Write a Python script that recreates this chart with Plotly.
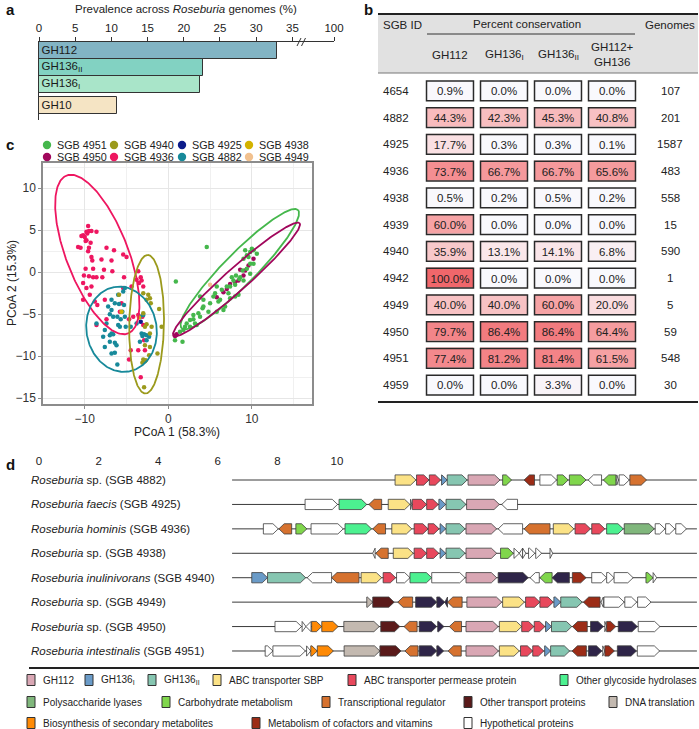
import numpy as np
import plotly.graph_objects as go

W, H = 699, 729
FONT = "Liberation Sans, Arial, Helvetica, sans-serif"

def px(x): return x / W
def py(y): return 1 - y / H
def xd(a, b): return [a / W, b / W]
def yd(top, bottom): return [1 - bottom / H, 1 - top / H]

# ---------------- Panel a data ----------------
gh_families = ["GH112", "GH136<sub>II</sub>", "GH136<sub>I</sub>", "GH10"]
prevalence = [32.9, 22.7, 22.3, 10.8]
bar_colors = ["#82b4c4", "#82d2c2", "#a9e5c9", "#f5e4c4"]
prev_ticks = [0, 5, 10, 15, 20, 25, 30, 35]
prev_break_label = "100"

# ---------------- Panel b data ----------------
sgb_ids = ["4654", "4882", "4925", "4936", "4938", "4939", "4940", "4942", "4949", "4950", "4951", "4959"]
cons_gh112 = [0.9, 44.3, 17.7, 73.7, 0.5, 60.0, 35.9, 100.0, 40.0, 79.7, 77.4, 0.0]
cons_gh136i = [0.0, 42.3, 0.3, 66.7, 0.2, 0.0, 13.1, 0.0, 40.0, 86.4, 81.2, 0.0]
cons_gh136ii = [0.0, 45.3, 0.3, 66.7, 0.5, 0.0, 14.1, 0.0, 60.0, 86.4, 81.4, 3.3]
cons_both = [0.0, 40.8, 0.1, 65.6, 0.2, 0.0, 6.8, 0.0, 20.0, 64.4, 61.5, 0.0]
n_genomes = [107, 201, 1587, 483, 558, 15, 590, 1, 5, 59, 548, 30]
cons_headers = ["GH112", "GH136<sub>I</sub>", "GH136<sub>II</sub>", "GH112+<br>GH136"]

# ---------------- Panel c data ----------------
sgb4936_x = [-9.6, -9.8, -10.2, -10.4, -10.0, -9.5, -9.2, -8.6, -9.9, -9.8, -10.5, -9.6, -9.5, -9.2, -9.1,
             -9.9, -9.0, -7.4, -6.5, -5.4, -5.0, -6.8, -7.7, -6.7, -9.5, -9.0, -8.6, -7.9, -10.1, -5.3,
             -3.6, -3.8, -3.3, -3.2, -3.5, -3.0, -4.4, -10.2, -9.8, -9.4, -10.2, -8.8, -8.5, -7.6, -8.6,
             -7.4, -5.6, -5.8, -4.7, -4.2, -3.6, -3.1, -3.0, -4.5, -3.6, -2.8, -4.7, -3.3, -2.9, -5.4,
             -9.2, -9.7, -9.3, -10.8, -8.0]
sgb4936_y = [5.5, 4.8, 4.4, 4.3, 4.2, 4.9, 4.9, 4.8, 3.7, 3.8, 2.9, 2.5, 2.9, 1.8, 1.4,
             0.4, 0.4, 2.9, 2.6, 2.1, 1.8, 1.4, 0.3, 0.1, -0.5, -0.6, -0.6, -0.6, -0.4, -0.6,
             0.1, -0.9, -0.6, -1.0, -1.3, -1.7, -1.7, -1.3, -1.9, -2.7, -3.3, -3.5, -3.9, -3.3, -6.3,
             -5.6, -3.7, -4.7, -5.6, -5.3, -5.1, -5.3, -6.3, -9.3, -9.3, -9.3, -10.4, -12.5, -8.1, -1.9,
             -1.7, 4.6, 3.5, 3.0, 1.5]
sgb4882_x = [-6.0, -5.4, -5.2, -6.8, -6.4, -5.9, -5.3, -7.2, -6.8, -7.0, -6.6, -6.1, -5.7, -5.2, -7.4,
             -6.0, -5.8, -5.1, -7.6, -6.8, -7.0, -6.6, -7.0, -6.4, -6.2, -7.8, -7.6, -6.8, -6.4, -6.1,
             -4.5, -3.8, -3.4, -3.0, -3.2, -3.1, -2.9, -2.6, -3.4, -2.6, -2.3, -8.6, -5.5]
sgb4882_y = [-2.7, -2.3, -1.9, -3.3, -3.7, -3.8, -3.9, -4.1, -4.5, -5.0, -5.3, -5.3, -5.6, -5.3, -6.1,
             -6.3, -6.5, -6.5, -6.9, -7.3, -7.5, -7.4, -8.3, -8.4, -8.7, -7.7, -8.9, -9.7, -9.6, -11.0,
             -6.5, -6.1, -5.3, -5.1, -7.3, -7.6, -7.4, -8.1, -8.3, -7.5, -7.7, -6.1, -4.7]
sgb4940_x = [-5.9, -3.0, -2.4, -2.2, -2.6, -2.1, -1.1, -3.0, -2.6, -2.8, -2.0, -0.8, -2.2, -2.8, -2.2,
             -2.3, -1.3, -3.0, -2.8, -3.1, -2.9, -2.7]
sgb4940_y = [-2.7, -2.5, -2.7, -3.1, -3.3, -3.7, -4.4, -4.9, -6.2, -6.5, -6.5, -6.5, -7.3, -8.7, -8.9,
             -9.9, -9.7, -10.4, -10.6, -10.8, -13.7, -10.5]
sgb4951_x = [4.6, 0.9, 3.8, 4.2, 5.0, 5.4, 5.6, 6.0, 6.6, 6.8, 5.8, 4.8, 4.1, 3.6, 3.0, 2.6, 2.2, 2.0,
             1.8, 1.4, 0.8, 1.7, 3.4, 3.0, 7.4, 8.0, 8.4, 7.0, 7.4, 7.8, 8.1, 8.6, 9.0, 8.9, 9.4, 9.8,
             9.0, 9.4, 9.8, 10.2, 10.6, 10.0, 9.6, 10.2, 8.0, 7.2, 6.4, 5.8, 4.2, 2.6, 3.2, 3.8, 6.2,
             9.8, 9.2, 8.5, 7.6]
sgb4951_y = [3.0, -1.1, -2.9, -3.3, -3.7, -2.9, -2.5, -3.5, -4.5, -4.1, -4.7, -4.7, -4.3, -4.9, -5.1,
             -5.7, -6.1, -6.5, -6.9, -7.1, -8.1, -8.3, -6.3, -5.6, -3.1, -2.9, -2.7, -1.7, -1.7, -1.0,
             -0.4, -0.6, -1.0, 0.2, 0.4, 1.0, 1.6, 2.0, 2.4, 2.6, 2.2, 2.8, 1.8, 1.0, -1.5, -2.5, -2.1,
             -1.7, -4.1, -6.5, -6.1, -5.3, -3.3, -0.2, 2.6, -0.8, -0.6]
sgb4950_x = [8.6, 8.0, 8.4, 9.0, 7.4, 6.6, 0.9, 1.0, 0.8, 9.6, 10.2, 5.8, 7.0, 9.2]
sgb4950_y = [0.3, -1.2, -1.0, -0.4, -1.4, -2.4, -7.5, -7.4, -7.6, 0.8, 1.6, -3.0, -2.0, 0.2]
sgb4925_x = [-3.3]
sgb4925_y = [-5.9]
sgb4938_x = [-5.6, -3.5]
sgb4938_y = [-4.7, -5.4]
sgb4949_x = [5.0]
sgb4949_y = [-1.5]

sgb_colors = {"4951": "#45b74c", "4950": "#a1075c", "4940": "#9b9a1c", "4936": "#ee1660",
              "4925": "#0c1c8a", "4882": "#17899a", "4938": "#d3b300", "4949": "#f1c18f"}
legend_row1 = ["4951", "4940", "4925", "4938"]
legend_row2 = ["4950", "4936", "4882", "4949"]

# confidence ellipses (centre, semi-axes, angle in degrees)
ell_sgb = ["4936", "4882", "4940", "4951", "4950"]
ell_cx = [-8.5, -5.6, -2.6, 8.56, 8.16]
ell_cy = [2.1, -6.8, -6.2, 0.36, -0.87]
ell_a = [10.1, 5.1, 8.25, 9.9, 10.1]
ell_b = [3.7, 4.2, 2.08, 1.9, 1.35]
ell_angle = [-68.6, 100, 89, 45.3, 41.6]

# ---------------- Panel d data ----------------
genome_sgb = ["4882", "4925", "4936", "4938", "4940", "4949", "4950", "4951"]
genome_species = ["sp.", "faecis", "hominis", "sp.", "inulinivorans", "sp.", "sp.", "intestinalis"]
track_start = 6.48
track_end = 22.08
kb_ticks = [0, 2, 4, 6, 8, 10]

genes_4882 = [(11.95, 12.65, 1, 'SBP'), (12.67, 13.09, 1, 'PERM'), (13.10, 13.48, 1, 'PERM'),
              (13.51, 13.70, 1, 'GH136I'), (13.70, 14.37, 1, 'GH136II'), (14.40, 15.47, 1, 'GH112'),
              (15.56, 15.86, 1, 'CARB'), (16.28, 16.63, -1, 'COF'), (16.81, 17.37, 1, 'HYP'),
              (17.39, 17.76, 1, 'CARB'), (17.80, 18.36, 1, 'CARB'), (18.43, 18.88, -1, 'HYP'),
              (18.94, 19.36, -1, 'CARB'), (19.39, 19.45, 1, 'HYP'), (19.47, 19.81, 1, 'HYP'),
              (19.83, 20.39, 1, 'TREG')]
genes_4925 = [(8.93, 10.02, 1, 'HYP'), (10.07, 11.00, 1, 'OGH'), (11.07, 11.50, -1, 'TREG'),
              (11.72, 12.45, 1, 'SBP'), (12.47, 12.51, 1, 'HYP'), (12.53, 13.01, 1, 'PERM'),
              (13.01, 13.40, 1, 'PERM'), (13.42, 13.65, 1, 'GH136I'), (13.66, 14.33, 1, 'GH136II'),
              (14.35, 15.45, 1, 'GH112'), (15.53, 16.06, -1, 'HYP')]
genes_4936 = [(7.53, 8.03, 1, 'HYP'), (8.05, 8.48, -1, 'TREG'), (8.62, 8.99, 1, 'CARB'),
              (9.13, 10.21, 1, 'HYP'), (10.27, 11.16, 1, 'OGH'), (11.20, 11.63, -1, 'TREG'),
              (11.84, 12.51, 1, 'SBP'), (12.59, 13.06, 1, 'PERM'), (13.06, 13.43, 1, 'PERM'),
              (13.46, 13.65, 1, 'GH136I'), (13.66, 14.30, 1, 'GH136II'), (14.33, 15.36, 1, 'GH112'),
              (15.41, 16.23, -1, 'HYP'), (16.28, 17.15, -1, 'TREG'), (17.26, 17.95, 1, 'SBP'),
              (17.99, 18.51, 1, 'PERM'), (18.55, 18.99, 1, 'PERM'), (19.05, 19.61, 1, 'OGH'),
              (19.64, 20.65, 1, 'PL'), (20.68, 21.01, 1, 'HYP'), (21.03, 21.34, 1, 'HYP'),
              (21.37, 21.73, 1, 'HYP')]
genes_4938 = [(11.20, 11.28, -1, 'HYP'), (11.30, 11.72, -1, 'TREG'), (11.89, 12.56, 1, 'SBP'),
              (12.59, 13.01, 1, 'PERM'), (13.01, 13.42, 1, 'PERM'), (13.46, 13.65, 1, 'GH136I'),
              (13.66, 14.30, 1, 'GH136II'), (14.33, 15.36, 1, 'GH112'), (15.49, 15.92, 1, 'CARB'),
              (15.94, 16.12, 1, 'HYP'), (16.12, 16.23, -1, 'HYP'), (16.23, 16.34, 1, 'HYP'),
              (16.43, 16.64, 1, 'HYP'), (16.67, 16.87, 1, 'HYP'), (17.15, 17.24, 1, 'HYP')]
genes_4940 = [(7.14, 7.67, 1, 'GH136I'), (7.67, 8.95, 1, 'GH136II'), (9.00, 9.82, -1, 'HYP'),
              (9.82, 10.74, -1, 'TREG'), (10.81, 11.50, 1, 'SBP'), (11.55, 11.97, 1, 'PERM'),
              (12.00, 12.45, 1, 'HYP'), (12.45, 13.18, 1, 'OGH'), (13.18, 14.30, 1, 'HYP'),
              (14.33, 15.36, 1, 'GH112'), (15.41, 16.42, 1, 'UNK'), (16.48, 16.79, -1, 'HYP'),
              (16.81, 17.22, -1, 'CARB'), (17.22, 17.80, -1, 'UNK'), (17.90, 18.36, 1, 'COF'),
              (18.55, 19.05, 1, 'HYP'), (19.05, 19.30, 1, 'HYP'), (19.30, 19.94, 1, 'HYP'),
              (20.37, 20.61, 1, 'CARB'), (20.61, 20.73, 1, 'HYP')]
genes_4949 = [(11.00, 11.20, 1, 'DNA'), (11.20, 11.92, 1, 'OTP'), (12.04, 12.54, -1, 'TREG'),
              (12.64, 13.35, 1, 'UNK'), (13.35, 13.62, 1, 'UNK'), (13.62, 13.71, -1, 'UNK'),
              (13.71, 14.20, -1, 'TREG'), (14.36, 15.53, 1, 'GH112'), (15.56, 16.29, 1, 'SBP'),
              (16.33, 16.81, 1, 'PERM'), (16.81, 17.26, 1, 'PERM'), (17.28, 17.51, 1, 'GH136I'),
              (17.51, 18.23, 1, 'GH136II'), (18.27, 18.83, -1, 'COF'), (18.86, 18.94, -1, 'HYP'),
              (18.96, 19.64, 1, 'HYP'), (19.66, 20.06, 1, 'HYP'), (20.09, 20.54, 1, 'HYP')]
genes_4950 = [(7.92, 8.81, 1, 'HYP'), (8.83, 8.96, 1, 'HYP'), (8.96, 9.13, -1, 'HYP'),
              (9.15, 9.49, 1, 'BIOS'), (9.49, 10.04, 1, 'BIOS'), (10.23, 11.42, 1, 'DNA'),
              (11.47, 12.11, 1, 'OTP'), (12.25, 12.69, -1, 'TREG'), (12.76, 13.35, 1, 'UNK'),
              (13.38, 13.59, 1, 'UNK'), (13.77, 14.18, -1, 'TREG'), (14.33, 15.41, 1, 'GH112'),
              (15.45, 16.20, 1, 'SBP'), (16.20, 16.61, 1, 'PERM'), (16.62, 16.98, 1, 'PERM'),
              (17.00, 17.20, 1, 'GH136I'), (17.20, 17.88, 1, 'GH136II'), (17.90, 18.40, -1, 'COF'),
              (18.51, 18.94, 1, 'UNK'), (18.99, 19.05, 1, 'HYP'), (19.05, 19.36, 1, 'COF'),
              (19.44, 20.08, 1, 'UNK'), (20.11, 20.84, 1, 'HYP')]
genes_4951 = [(7.59, 7.85, 1, 'HYP'), (7.85, 8.94, 1, 'HYP'), (8.98, 9.12, 1, 'HYP'),
              (9.12, 9.34, 1, 'BIOS'), (9.34, 9.88, 1, 'BIOS'), (10.24, 11.44, 1, 'DNA'),
              (11.44, 12.15, 1, 'OTP'), (12.28, 12.72, -1, 'TREG'), (12.76, 13.35, 1, 'UNK'),
              (13.35, 13.58, 1, 'UNK'), (13.73, 14.17, -1, 'TREG'), (14.33, 15.42, 1, 'GH112'),
              (15.45, 16.12, 1, 'SBP'), (16.16, 16.57, 1, 'PERM'), (16.57, 16.94, 1, 'PERM'),
              (16.97, 17.17, 1, 'GH136I'), (17.17, 17.81, 1, 'GH136II'), (17.89, 18.37, -1, 'COF'),
              (18.44, 18.89, 1, 'UNK'), (18.92, 18.99, 1, 'HYP'), (18.99, 19.31, 1, 'COF'),
              (19.41, 20.05, 1, 'UNK'), (20.08, 20.83, 1, 'HYP')]
genome_genes = [genes_4882, genes_4925, genes_4936, genes_4938, genes_4940, genes_4949, genes_4950, genes_4951]

gene_cat_codes = ['GH112', 'GH136I', 'GH136II', 'SBP', 'PERM', 'OGH', 'PL', 'CARB', 'TREG', 'OTP',
                  'DNA', 'BIOS', 'COF', 'HYP', 'UNK']
gene_cat_labels = ['GH112', 'GH136<sub>I</sub>', 'GH136<sub>II</sub>', 'ABC transporter SBP',
                   'ABC transporter permease protein', 'Other glycoside hydrolases', 'Polysaccharide lyases',
                   'Carbohydrate metabolism', 'Transcriptional regulator', 'Other transport proteins',
                   'DNA translation', 'Biosynthesis of secondary metabolites',
                   'Metabolism of cofactors and vitamins', 'Hypothetical proteins', None]
gene_cat_colors = ['#d9a7b4', '#6a9bc8', '#86c6b1', '#fbe286', '#e8485c', '#4cf190', '#80b77c',
                   '#80d64c', '#d6722f', '#5a1a1a', '#c3b9b0', '#ff8a05', '#9c2c16', '#ffffff', '#2f2549']
cat_color = dict(zip(gene_cat_codes, gene_cat_colors))

# legend layout positions for panel d (pixel x of swatch, pixel y of row)
legend_d_pos = [(27, 680), (85, 680), (148, 680), (213, 680), (348, 680), (560, 680),
                (27, 702), (162, 702), (322, 702), (464, 702), (609, 702),
                (27, 723), (252, 723), (464, 723)]
# legend layout positions for panel c (pixel x of marker)
legend_c_x = [47, 114, 182, 249]
legend_c_y = [145, 157]

# ================= build figure =================
fig = go.Figure()
shapes = []
annots = []

def ann(text, x, y, xref='paper', yref='paper', xanchor='center', yanchor='middle', size=11.5, **kw):
    d = dict(text=text, x=x, y=y, xref=xref, yref=yref, xanchor=xanchor, yanchor=yanchor,
             showarrow=False, font=dict(size=size, color=kw.pop('color', '#222')))
    d.update(kw)
    annots.append(d)

# ---- Panel a ----
bar_slots = [0, 1, 2, 3.25]
fig.add_trace(go.Bar(
    x=prevalence, y=bar_slots, orientation='h', width=1,
    marker=dict(color=bar_colors, line=dict(color='#333333', width=1)),
    text=gh_families, textposition='inside', insidetextanchor='start',
    textfont=dict(size=11.5, color='#1a1a1a', family=FONT), constraintext='none',
    xaxis='x', yaxis='y', showlegend=False, hoverinfo='skip'))

a_max = 40.75
fig.update_layout(
    xaxis=dict(domain=xd(39, 334), range=[0, a_max], side='top', anchor='y',
               showline=True, linecolor='#333', linewidth=1, ticks='outside', ticklen=4,
               tickcolor='#333', tickvals=prev_ticks + [a_max],
               ticktext=[str(t) for t in prev_ticks] + [prev_break_label],
               tickfont=dict(size=11.5), showgrid=False, zeroline=False, fixedrange=True),
    yaxis=dict(domain=yd(42, 120), range=[4.09, -0.5], anchor='x', showline=True,
               linecolor='#333', linewidth=1, ticks='', showticklabels=False,
               showgrid=False, zeroline=False, fixedrange=True),
)
for off in (0, 4.5):
    shapes.append(dict(type='line', xref='paper', yref='paper',
                       x0=px(297 + off), y0=py(46), x1=px(301 + off), y1=py(38),
                       line=dict(color='#333', width=1)))
ann("Prevalence across <i>Roseburia</i> genomes (%)", px(186), py(9))

# ---- Panel b ----
z = [[cons_gh112[j], cons_gh136i[j], cons_gh136ii[j], cons_both[j]] for j in range(len(sgb_ids))]
fig.add_trace(go.Heatmap(
    z=z, x=[0, 1, 2, 3], y=list(range(len(sgb_ids))), zmin=0, zmax=100,
    colorscale=[[0, '#f9f9fd'], [0.2, '#fadde0'], [0.4, '#f8c2c4'], [0.6, '#f6a3a5'],
                [0.8, '#f38589'], [1.0, '#f0676b']],
    xgap=7, ygap=7, showscale=False, texttemplate="%{z:.1f}%",
    textfont=dict(size=11.5, color='#222', family=FONT),
    xaxis='x2', yaxis='y2', hoverinfo='skip'))
fig.update_layout(
    xaxis2=dict(domain=xd(423, 639), range=[-0.5, 3.5], visible=False, anchor='y2', fixedrange=True),
    yaxis2=dict(domain=yd(77.6, 398.4), range=[11.5, -0.5], visible=False, anchor='x2', fixedrange=True),
)
for j in range(len(sgb_ids)):
    for i in range(4):
        shapes.append(dict(type='rect', xref='x2', yref='y2', x0=i - 0.435, x1=i + 0.435,
                           y0=j - 0.37, y1=j + 0.37, line=dict(color='#2a2a2a', width=1.5)))
    ann(sgb_ids[j], px(381), j, yref='y2', xanchor='left')
    ann(str(n_genomes[j]), px(670), j, yref='y2')
shapes.append(dict(type='rect', xref='paper', yref='paper', x0=px(378), x1=px(698), y0=py(73), y1=py(14),
                   fillcolor='#e1e1e1', line=dict(width=0), layer='below'))
shapes.append(dict(type='line', xref='paper', yref='paper', x0=px(378), x1=px(698), y0=py(14), y1=py(14),
                   line=dict(color='#222', width=2)))
shapes.append(dict(type='line', xref='paper', yref='paper', x0=px(378), x1=px(698), y0=py(73), y1=py(73),
                   line=dict(color='#777', width=1)))
shapes.append(dict(type='line', xref='paper', yref='paper', x0=px(427), x1=px(635), y0=py(34), y1=py(34),
                   line=dict(color='#333', width=1)))
shapes.append(dict(type='line', xref='paper', yref='paper', x0=px(378), x1=px(698), y0=py(402), y1=py(402),
                   line=dict(color='#222', width=2)))
ann("SGB ID", px(381), py(25), xanchor='left')
ann("Percent conservation", px(527), py(24))
ann("Genomes", px(670), py(25))
for i, htxt in enumerate(cons_headers):
    ann(htxt, i, py(55), xref='x2')

# ---- Panel c ----
def ellipse(cx, cy, a, b, ang):
    t = np.linspace(0, 2 * np.pi, 240)
    th = np.deg2rad(ang)
    ex = cx + a * np.cos(t) * np.cos(th) - b * np.sin(t) * np.sin(th)
    ey = cy + a * np.cos(t) * np.sin(th) + b * np.sin(t) * np.cos(th)
    return ex, ey

point_sets = [("4936", sgb4936_x, sgb4936_y), ("4882", sgb4882_x, sgb4882_y),
              ("4940", sgb4940_x, sgb4940_y), ("4950", sgb4950_x, sgb4950_y),
              ("4951", sgb4951_x, sgb4951_y), ("4925", sgb4925_x, sgb4925_y),
              ("4938", sgb4938_x, sgb4938_y), ("4949", sgb4949_x, sgb4949_y)]
for s, xs, ys in point_sets:
    fig.add_trace(go.Scatter(x=xs, y=ys, mode='markers', marker=dict(size=4.5, color=sgb_colors[s]),
                             xaxis='x3', yaxis='y3', showlegend=False, hoverinfo='skip', name=f"SGB {s}"))
for k, s in enumerate(ell_sgb):
    ex, ey = ellipse(ell_cx[k], ell_cy[k], ell_a[k], ell_b[k], ell_angle[k])
    fig.add_trace(go.Scatter(x=ex, y=ey, mode='lines', line=dict(color=sgb_colors[s], width=1.8),
                             xaxis='x3', yaxis='y3', showlegend=False, hoverinfo='skip'))
for ri, row in enumerate((legend_row1, legend_row2)):
    ly = legend_c_y[ri]
    for ci, s in enumerate(row):
        lx = legend_c_x[ci]
        shapes.append(dict(type='circle', xref='paper', yref='paper', x0=px(lx - 4.2), x1=px(lx + 4.2),
                           y0=py(ly + 4.2), y1=py(ly - 4.2), fillcolor=sgb_colors[s], line=dict(width=0)))
        ann(f"SGB {s}", px(lx + 7.5), py(ly), xanchor='left', size=10.8)

grid_major = '#e6e6e6'
grid_minor = '#f0f0f0'
fig.update_layout(
    xaxis3=dict(domain=xd(43, 312), range=[-15.0, 17.2], anchor='y3', tickmode='linear', tick0=0, dtick=10,
                showgrid=True, gridcolor=grid_major, gridwidth=1,
                minor=dict(tickmode='linear', tick0=0, dtick=5, showgrid=True, gridcolor=grid_minor, gridwidth=0.8),
                showline=True, mirror=True, linecolor='#8c8c8c', linewidth=1.5,
                ticks='outside', ticklen=3, tickcolor='#8c8c8c', tickfont=dict(size=12, color='#333'),
                zeroline=False, fixedrange=True),
    yaxis3=dict(domain=yd(163, 404), range=[-15.7, 13.0], anchor='x3', tickmode='linear', tick0=0, dtick=5,
                showgrid=True, gridcolor=grid_major, gridwidth=1,
                minor=dict(tickmode='linear', tick0=0, dtick=2.5, showgrid=True, gridcolor=grid_minor, gridwidth=0.8),
                showline=True, mirror=True, linecolor='#8c8c8c', linewidth=1.5,
                ticks='outside', ticklen=3, tickcolor='#8c8c8c', tickfont=dict(size=12, color='#333'),
                zeroline=False, fixedrange=True),
)
ann("PCoA 1 (58.3%)", px(177), py(432), size=12)
ann("PCoA 2 (15.3%)", px(12), py(283), size=12, textangle=-90)

# ---- Panel d ----
n_rows = len(genome_sgb)
for r in range(n_rows):
    fig.add_trace(go.Scatter(x=[track_start, track_end], y=[r, r], mode='lines',
                             line=dict(color='#3a3a3a', width=1), xaxis='x4', yaxis='y4',
                             showlegend=False, hoverinfo='skip'))
HALF = 0.21
HEAD = 0.18
for r, genes in enumerate(genome_genes):
    for (s0, s1, strand, cat) in genes:
        hl = min(HEAD, s1 - s0)
        if strand > 0:
            b = s1 - hl
            path = f"M {s0},{r - HALF} L {b},{r - HALF} L {s1},{r} L {b},{r + HALF} L {s0},{r + HALF} Z"
        else:
            b = s0 + hl
            path = f"M {s1},{r - HALF} L {b},{r - HALF} L {s0},{r} L {b},{r + HALF} L {s1},{r + HALF} Z"
        shapes.append(dict(type='path', path=path, xref='x4', yref='y4', fillcolor=cat_color[cat],
                           line=dict(color='#3c3c3c', width=0.8)))
for r in range(n_rows):
    sp = genome_species[r]
    if sp == "sp.":
        label = f"<i>Roseburia</i> sp. (SGB {genome_sgb[r]})"
    else:
        label = f"<i>Roseburia {sp}</i> (SGB {genome_sgb[r]})"
    ann(label, px(29), r, yref='y4', xanchor='left', size=11.5)
fig.update_layout(
    xaxis4=dict(domain=xd(39, 699), range=[0, 22.15], side='top', anchor='y4', tickvals=kb_ticks,
                showline=False, ticks='', showgrid=False, zeroline=False, tickfont=dict(size=11.5),
                fixedrange=True),
    yaxis4=dict(domain=yd(467.8, 663.2), range=[7.5, -0.5], anchor='x4', visible=False, fixedrange=True),
)
shapes.append(dict(type='line', xref='paper', yref='paper', x0=px(29), x1=px(699), y0=py(668), y1=py(668),
                   line=dict(color='#222', width=2)))
k = 0
for code, lab, col in zip(gene_cat_codes, gene_cat_labels, gene_cat_colors):
    if lab is None:
        continue
    lx, ly = legend_d_pos[k]
    k += 1
    shapes.append(dict(type='rect', xref='paper', yref='paper', x0=px(lx), x1=px(lx + 8),
                       y0=py(ly + 5.5), y1=py(ly - 5.5), fillcolor=col, line=dict(color='#333', width=1)))
    ann(lab, px(lx + 14), py(ly), xanchor='left', size=10)

# panel letters
for letter, lx, ly in (("a", 4, 9), ("b", 362, 9), ("c", 4, 145), ("d", 4, 464)):
    ann(f"<b>{letter}</b>", px(lx), py(ly), xanchor='left', size=15, color='#111')

fig.update_layout(width=W, height=H, margin=dict(l=0, r=0, t=0, b=0, autoexpand=False),
                  paper_bgcolor='white', plot_bgcolor='white',
                  font=dict(family=FONT, size=11.5, color='#222'),
                  shapes=shapes, annotations=annots, bargap=0, showlegend=False)
fig.write_html("out.html", config={'displayModeBar': False},
               post_script="document.body.style.margin='0';document.body.style.overflow='hidden';")
